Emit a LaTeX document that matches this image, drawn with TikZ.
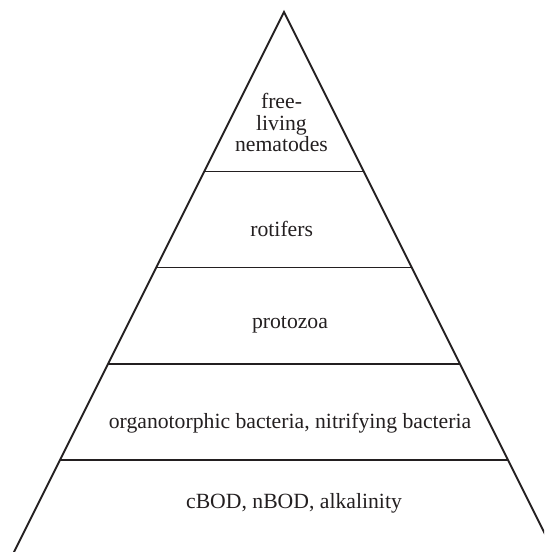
\documentclass[tikz,border=0pt]{standalone}
\usepackage{fontspec}
\setmainfont{Liberation Serif}
\definecolor{ink}{RGB}{35,31,32}
\begin{document}
\begin{tikzpicture}[x=1pt, y=-1pt,
    % Styles
    edge/.style={draw=ink, line width=1.8pt, line join=miter},
    tier/.style={draw=ink, line width=1.4pt},
    label/.style={font=\fontsize{21.7}{21.6}\selectfont, text=ink, inner sep=0pt, align=center},
]
\useasboundingbox (0,0) rectangle (544,552);
\clip (0,0) rectangle (544,552);

% Pyramid outline (base runs off the page)
\coordinate (apex) at (284,12);
\coordinate (leftfoot) at (4,572);
\coordinate (rightfoot) at (564,572);
\draw[edge] (leftfoot) -- (apex) -- (rightfoot);

% Tier lines
\draw[tier] (204.15,171.7) -- (363.85,171.7);
\draw[tier] (156.15,267.7) -- (411.85,267.7);
\draw[tier] (108,364) -- (460,364);
\draw[tier] (60,460) -- (508,460);

% Tier labels
\node[label] (nematodes) at (281.5,122.7) {free-\\living\\nematodes};
\node[label, anchor=base] (rotifers) at (281.7,236.7) {rotifers};
\node[label, anchor=base] (protozoa) at (290,328.3) {protozoa};
\node[label, anchor=base] (bacteria) at (290,428) {organotorphic bacteria, nitrifying bacteria};
\node[label, anchor=base] (substrate) at (294,508.5) {cBOD, nBOD, alkalinity};

\end{tikzpicture}
\end{document}
